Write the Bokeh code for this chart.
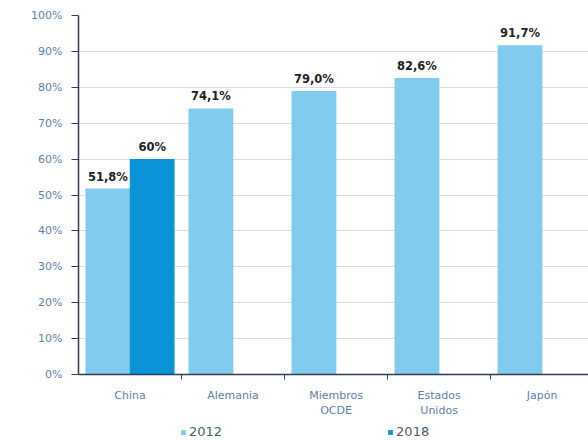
from bokeh.plotting import figure
from bokeh.layouts import column
from bokeh.models import (Range1d, FixedTicker, PrintfTickFormatter, Legend, LegendItem,
                          ColumnDataSource, LabelSet)
from bokeh.core.properties import value
from bokeh.embed import file_html
from bokeh.resources import INLINE

# ---- data ----
categories = ["China", "Alemania", "Miembros\nOCDE", "Estados\nUnidos", "Japón"]
values_2012 = [51.8, 74.1, 79.0, 82.6, 91.7]
labels_2012 = ["51,8%", "74,1%", "79,0%", "82,6%", "91,7%"]
values_2018 = [60.0]
labels_2018 = ["60%"]
series_names = ["2012", "2018"]
y_ticks = [0, 10, 20, 30, 40, 50, 60, 70, 80, 90, 100]

C2012 = "#80cbee"
C2018 = "#0a93d7"
AXIS_TXT = "#5f80a6"
AXIS_LINE = "#2e3f55"
FONT = "DejaVu Sans"

n = len(categories)
centers = [i + 0.5 for i in range(n)]
x2012 = [i + 0.285 for i in range(n)]
x2018 = [i + 0.715 for i in range(len(values_2018))]

p = figure(width=588, height=420, output_backend="svg", toolbar_location=None,
           x_range=Range1d(0, 4.95), y_range=Range1d(0, 100),
           min_border_left=78, min_border_right=0, min_border_top=15, min_border_bottom=46)
p.outline_line_color = None
p.background_fill_color = "white"
p.border_fill_color = "white"

s12 = ColumnDataSource(dict(x=x2012, top=values_2012, label=labels_2012))
s18 = ColumnDataSource(dict(x=x2018, top=values_2018, label=labels_2018))
r12 = p.vbar(x="x", top="top", width=0.435, source=s12, fill_color=C2012, line_color=None)
r18 = p.vbar(x="x", top="top", width=0.435, source=s18, fill_color=C2018, line_color=None)

for src in (s12, s18):
    p.add_layout(LabelSet(x="x", y="top", text="label", source=src, text_align="center",
                          text_baseline="middle", y_offset=12, text_font=value(FONT),
                          text_font_size="11.5px", text_font_style="bold", text_color="#222222"))

# y axis
p.yaxis.ticker = FixedTicker(ticks=y_ticks)
p.yaxis.formatter = PrintfTickFormatter(format="%d%%")
p.yaxis.axis_line_color = AXIS_LINE
p.yaxis.axis_line_width = 1.5
p.yaxis.major_tick_line_color = AXIS_LINE
p.yaxis.major_tick_out = 7
p.yaxis.major_tick_in = 0
p.yaxis.minor_tick_line_color = None
p.yaxis.major_label_text_font = FONT
p.yaxis.major_label_text_font_size = "11px"
p.yaxis.major_label_text_color = AXIS_TXT
p.yaxis.major_label_standoff = 9

# x axis
p.xaxis.ticker = FixedTicker(ticks=centers, minor_ticks=list(range(1, n)))
p.xaxis.major_label_overrides = {c: lab for c, lab in zip(centers, categories)}
p.xaxis.axis_line_color = AXIS_LINE
p.xaxis.axis_line_width = 1.5
p.xaxis.major_tick_line_color = None
p.xaxis.minor_tick_line_color = AXIS_LINE
p.xaxis.minor_tick_out = 5
p.xaxis.minor_tick_in = 0
p.xaxis.major_label_text_font = FONT
p.xaxis.major_label_text_font_size = "11px"
p.xaxis.major_label_text_color = AXIS_TXT
p.xaxis.major_label_standoff = 8

p.xgrid.grid_line_color = None
p.ygrid.grid_line_color = "#d9dde0"
p.ygrid.grid_line_width = 1

# ---- legend strip below the chart ----
p2 = figure(width=588, height=21, output_backend="svg", toolbar_location=None,
            x_range=Range1d(0, 1), y_range=Range1d(0, 1),
            min_border_left=78, min_border_right=0, min_border_top=0, min_border_bottom=0)
p2.axis.visible = False
p2.grid.grid_line_color = None
p2.outline_line_color = None
g12 = p2.vbar(x=[0.5], top=[0], bottom=[0], width=0.1, fill_color=C2012, line_color=None)
g18 = p2.vbar(x=[0.5], top=[0], bottom=[0], width=0.1, fill_color=C2018, line_color=None)
legend = Legend(items=[LegendItem(label=series_names[0], renderers=[g12]),
                       LegendItem(label=series_names[1], renderers=[g18])],
                orientation="horizontal", location=(102, 2), spacing=165,
                glyph_width=6, glyph_height=6, label_text_font=FONT,
                label_text_font_size="13px", label_text_color="#4b5d70",
                border_line_color=None, background_fill_alpha=0, padding=0, margin=0,
                label_standoff=3, label_height=14)
p2.add_layout(legend, "center")

open("out.html", "w").write(file_html(column(p, p2, spacing=0), INLINE))
